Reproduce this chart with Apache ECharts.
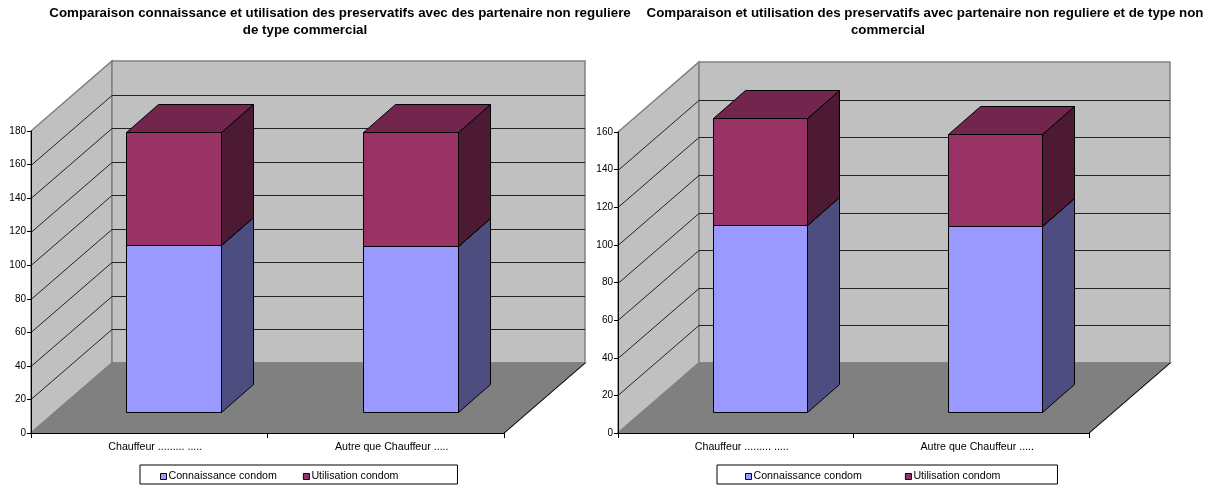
<!DOCTYPE html>
<html>
<head>
<meta charset="utf-8">
<style>
  html, body { margin: 0; padding: 0; background: #fff; }
  #chart { width: 1214px; height: 485px; }
</style>
<script src="https://cdn.jsdelivr.net/npm/echarts@6/dist/echarts.min.js"></script>
</head>
<body>
<div id="chart"></div>
<script>
const categories = ['Chauffeur ......... .....', 'Autre que Chauffeur .....']
const seriesNames = ['Connaissance condom', 'Utilisation condom']

// left chart
const connaissanceLeft = [99.3, 98.8]
const utilisationLeft = [67.7, 67.8]
const ticksLeft = [20, 40, 60, 80, 100, 120, 140, 160, 180]

// right chart
const connaissanceRight = [99.4, 98.9]
const utilisationRight = [56.7, 48.9]
const ticksRight = [20, 40, 60, 80, 100, 120, 140, 160]

const FONT = '"Liberation Sans", Arial, sans-serif'
// offset of the back wall from the axis plane
const DEPTH_X = 81
const DEPTH_Y = 70
// bars sit between these fractions of the depth
const BAR_FRONT = 0.3
const BAR_THICK = 0.4
const BAR_WIDTH = 0.4

const blue = { front: '#9999FF', side: '#4D4D80', top: '#7373BF' }
const purple = { front: '#993366', side: '#4D1A33', top: '#73264D' }

function wallsItem(ticks) {
  return function (params, api) {
    const cs = params.coordSys
    const x0 = cs.x
    const x1 = cs.x + cs.width
    const y0 = cs.y + cs.height
    const y1 = cs.y
    const gray = { stroke: '#808080', lineWidth: 1.5 }
    const poly = (points, fill, style) => ({
      type: 'polygon',
      shape: { points: points },
      style: Object.assign({ fill: fill }, style)
    })
    const children = [
      poly([[x0, y0], [x0, y1], [x0 + DEPTH_X, y1 - DEPTH_Y], [x0 + DEPTH_X, y0 - DEPTH_Y]], '#C0C0C0', gray),
      poly([[x0 + DEPTH_X, y1 - DEPTH_Y], [x1 + DEPTH_X, y1 - DEPTH_Y], [x1 + DEPTH_X, y0 - DEPTH_Y], [x0 + DEPTH_X, y0 - DEPTH_Y]], '#C0C0C0', gray),
      poly([[x0, y0], [x1, y0], [x1 + DEPTH_X, y0 - DEPTH_Y], [x0 + DEPTH_X, y0 - DEPTH_Y]], '#808080', gray),
      {
        type: 'line',
        shape: { x1: x1, y1: y0, x2: x1 + DEPTH_X, y2: y0 - DEPTH_Y },
        style: { stroke: '#000', lineWidth: 1 }
      }
    ]
    ticks.forEach((v, i) => {
      if (i === ticks.length - 1) {
        // top tick has only the wall edge behind it
        return
      }
      const y = Math.round(api.coord([0, v])[1]) + 0.5
      children.push({
        type: 'polyline',
        shape: { points: [[x0, y], [x0 + DEPTH_X, y - DEPTH_Y], [x1 + DEPTH_X, y - DEPTH_Y]] },
        style: { stroke: '#222', lineWidth: 1, fill: null }
      })
    })
    return { type: 'group', children: children }
  }
}

function boxItem(colors) {
  return function (params, api) {
    const bottom = api.coord([api.value(0), api.value(1)])
    const top = api.coord([api.value(0), api.value(2)])
    const w = api.size([1, 0])[0] * BAR_WIDTH
    const xl = Math.round(bottom[0] - w / 2 + DEPTH_X * BAR_FRONT) + 0.5
    const xr = xl + Math.round(w)
    const yb = Math.round(bottom[1] - DEPTH_Y * BAR_FRONT) + 0.5
    const yt = Math.round(top[1] - DEPTH_Y * BAR_FRONT) + 0.5
    const dx = Math.round(DEPTH_X * BAR_THICK)
    const dy = Math.round(DEPTH_Y * BAR_THICK)
    const line = { stroke: '#000', lineWidth: 1, lineJoin: 'round' }
    const poly = (points, fill) => ({
      type: 'polygon',
      shape: { points: points },
      style: Object.assign({ fill: fill }, line)
    })
    return {
      type: 'group',
      children: [
        poly([[xr, yb], [xr + dx, yb - dy], [xr + dx, yt - dy], [xr, yt]], colors.side),
        poly([[xl, yt], [xr, yt], [xr + dx, yt - dy], [xl + dx, yt - dy]], colors.top),
        poly([[xl, yb], [xr, yb], [xr, yt], [xl, yt]], colors.front)
      ]
    }
  }
}

function stackData(lower, upper) {
  return {
    lower: lower.map((v, i) => [i, 0, v]),
    upper: upper.map((v, i) => [i, lower[i], lower[i] + v])
  }
}

function chartSeries(index, ticks, lower, upper) {
  const data = stackData(lower, upper)
  return [
    {
      type: 'custom',
      xAxisIndex: index,
      yAxisIndex: index,
      z: 1,
      silent: true,
      renderItem: wallsItem(ticks),
      encode: { x: 0, y: 1 },
      data: [[0, 0]]
    },
    {
      type: 'custom',
      name: seriesNames[0],
      xAxisIndex: index,
      yAxisIndex: index,
      z: 2,
      renderItem: boxItem(blue),
      itemStyle: { color: blue.front },
      encode: { x: 0, y: [1, 2] },
      data: data.lower
    },
    {
      type: 'custom',
      name: seriesNames[1],
      xAxisIndex: index,
      yAxisIndex: index,
      z: 3,
      renderItem: boxItem(purple),
      itemStyle: { color: purple.front },
      encode: { x: 0, y: [1, 2] },
      data: data.upper
    }
  ]
}

function xAxisFor(index) {
  return {
    type: 'category',
    gridIndex: index,
    data: categories,
    z: 4,
    axisLine: { lineStyle: { color: '#000', width: 1 } },
    axisTick: { show: true, length: 5, lineStyle: { color: '#000' } },
    axisLabel: { color: '#000', fontSize: 10.67, fontFamily: FONT, margin: 9, interval: 0, padding: [0, 0, 0, 12] }
  }
}

function yAxisFor(index, max) {
  return {
    type: 'value',
    gridIndex: index,
    min: 0,
    max: max,
    interval: 20,
    z: 4,
    splitLine: { show: false },
    axisLine: { show: true, lineStyle: { color: '#000', width: 1 } },
    axisTick: { show: true, length: 4, lineStyle: { color: '#000' } },
    axisLabel: { color: '#000', fontSize: 10, fontFamily: FONT, margin: 5 }
  }
}

function legendFor(left, gap, padRight, padLeft) {
  return {
    left: left,
    top: 465,
    orient: 'horizontal',
    icon: 'rect',
    itemWidth: 6,
    itemHeight: 6,
    itemGap: gap,
    selectedMode: false,
    backgroundColor: '#fff',
    borderColor: '#000',
    borderWidth: 1,
    padding: [6, padRight, 2, padLeft],
    data: seriesNames,
    itemStyle: { borderColor: '#000', borderWidth: 1 },
    textStyle: { color: '#000', fontSize: 10.67, fontFamily: FONT, padding: [0, 0, 0, -3] }
  }
}

function titleLine(text, cx, top) {
  return {
    text: text,
    left: cx,
    top: top,
    textAlign: 'center',
    padding: 0,
    textStyle: { color: '#000', fontSize: 13.33, fontWeight: 'bold', fontFamily: FONT }
  }
}

const chart = echarts.init(document.getElementById('chart'), null, { renderer: 'canvas' })
chart.setOption({
  animation: false,
  backgroundColor: '#fff',
  title: [
    titleLine('Comparaison connaissance et utilisation des preservatifs avec des partenaire non reguliere', 340, 7),
    titleLine('de type commercial', 305, 24),
    titleLine('Comparaison et utilisation des preservatifs avec partenaire non reguliere et de type non', 925, 7),
    titleLine('commercial', 888, 24)
  ],
  legend: [legendFor(140, 26, 59, 20), legendFor(717, 43, 57, 28)],
  grid: [
    { left: 31, top: 131, width: 473, height: 302 },
    { left: 618, top: 132, width: 471, height: 301 }
  ],
  xAxis: [xAxisFor(0), xAxisFor(1)],
  yAxis: [yAxisFor(0, 180), yAxisFor(1, 160)],
  series: chartSeries(0, ticksLeft, connaissanceLeft, utilisationLeft)
    .concat(chartSeries(1, ticksRight, connaissanceRight, utilisationRight))
})
</script>
</body>
</html>
